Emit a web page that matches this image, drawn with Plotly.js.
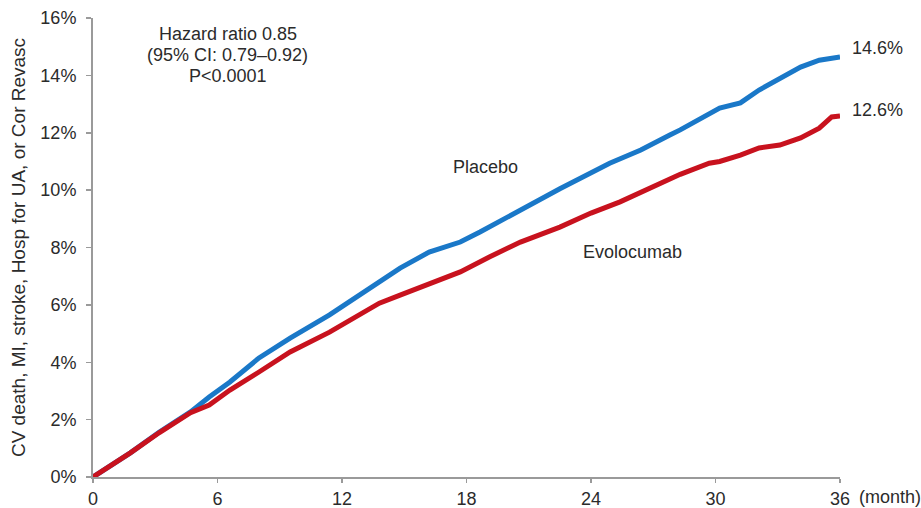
<!DOCTYPE html>
<html>
<head>
<meta charset="utf-8">
<script src="https://cdn.plot.ly/plotly-3.0.1.min.js"></script>
<style>html,body{margin:0;padding:0;background:#fff;}#chart{width:921px;height:508px;}</style>
</head>
<body>
<div id="chart"></div>
<script>
// Months since randomization
var placeboMonths = [0, 1.8, 3.2, 4.7, 5.6, 6.6, 8.0, 9.5, 11.4, 13.8, 14.8, 16.2, 17.7, 18.65, 20.6, 22.5, 24.9, 26.4, 27.8, 28.3, 30.2, 31.2, 32.1, 33.1, 34.1, 35.0, 36.0];
var placeboPct    = [0, 0.84, 1.57, 2.27, 2.79, 3.31, 4.15, 4.84, 5.65, 6.80, 7.28, 7.84, 8.19, 8.54, 9.31, 10.05, 10.94, 11.40, 11.92, 12.10, 12.86, 13.04, 13.49, 13.90, 14.29, 14.53, 14.64];

var evoMonths = [0, 1.8, 3.2, 4.7, 5.6, 6.6, 8.0, 9.5, 11.4, 13.8, 14.8, 16.7, 17.7, 19.1, 20.6, 22.5, 24.0, 25.4, 26.8, 28.3, 29.7, 30.2, 31.2, 32.1, 33.1, 34.1, 35.0, 35.3, 35.6, 36.0];
var evoPct    = [0, 0.84, 1.55, 2.24, 2.51, 3.03, 3.66, 4.36, 5.05, 6.06, 6.34, 6.87, 7.15, 7.67, 8.19, 8.71, 9.20, 9.59, 10.07, 10.55, 10.94, 11.00, 11.22, 11.47, 11.57, 11.82, 12.16, 12.34, 12.55, 12.58];

var xTicks = [0, 6, 12, 18, 24, 30, 36];
var yTicks = [0, 2, 4, 6, 8, 10, 12, 14, 16];
var yTickLabels = ["0%", "2%", "4%", "6%", "8%", "10%", "12%", "14%", "16%"];

var font = "Liberation Sans, Arial, Helvetica, sans-serif";
var txt = "#2b2b2b";

var traces = [
  {x: placeboMonths, y: placeboPct, mode: "lines", name: "Placebo",
   line: {color: "#1a78c8", width: 5}, cliponaxis: false},
  {x: evoMonths, y: evoPct, mode: "lines", name: "Evolocumab",
   line: {color: "#c8121e", width: 5}, cliponaxis: false}
];

var layout = {
  width: 921, height: 508,
  margin: {l: 93, r: 81, t: 18, b: 31},
  paper_bgcolor: "#fff", plot_bgcolor: "#fff",
  showlegend: false,
  font: {family: font, size: 18, color: txt},
  xaxis: {
    range: [0, 36], tickvals: xTicks, ticktext: xTicks.map(String),
    showgrid: false, zeroline: false, showline: true, linecolor: "#9a9a9a", linewidth: 2,
    ticks: "outside", ticklen: 4, tickcolor: "#9a9a9a", tickwidth: 1.5,
    ticklabelstandoff: 0,
    tickfont: {family: font, size: 18, color: txt}
  },
  yaxis: {
    range: [0, 16], tickvals: yTicks, ticktext: yTickLabels,
    showgrid: false, zeroline: false, showline: true, linecolor: "#9a9a9a", linewidth: 2,
    ticks: "outside", ticklen: 5, tickcolor: "#9a9a9a", tickwidth: 1.5,
    ticklabelstandoff: 6,
    tickfont: {family: font, size: 18, color: txt},
    title: {text: "CV death, MI, stroke, Hosp for UA, or Cor Revasc", standoff: 10,
            font: {family: font, size: 19, color: txt}}
  },
  annotations: [
    {xref: "x", yref: "y", x: 6.5, y: 15.43, text: "Hazard ratio 0.85", showarrow: false,
     xanchor: "center", yanchor: "middle", font: {size: 18, color: txt}},
    {xref: "x", yref: "y", x: 6.5, y: 14.7, text: "(95% CI: 0.79\u20130.92)", showarrow: false,
     xanchor: "center", yanchor: "middle", font: {size: 18, color: txt}},
    {xref: "x", yref: "y", x: 6.5, y: 13.97, text: "P<0.0001", showarrow: false,
     xanchor: "center", yanchor: "middle", font: {size: 18, color: txt}},
    {xref: "x", yref: "y", x: 18.9, y: 10.8, text: "Placebo", showarrow: false,
     xanchor: "center", yanchor: "middle", font: {size: 18, color: txt}},
    {xref: "x", yref: "y", x: 26.0, y: 7.85, text: "Evolocumab", showarrow: false,
     xanchor: "center", yanchor: "middle", font: {size: 18, color: txt}},
    {xref: "x", yref: "y", x: 36, xshift: 10, y: 14.95, text: "14.6%", showarrow: false,
     xanchor: "left", yanchor: "middle", font: {size: 18, color: txt}},
    {xref: "x", yref: "y", x: 36, xshift: 10, y: 12.8, text: "12.6%", showarrow: false,
     xanchor: "left", yanchor: "middle", font: {size: 18, color: txt}},
    {xref: "x", yref: "paper", x: 36, xshift: 17, y: 0, yshift: -20, text: "(month)", showarrow: false,
     xanchor: "left", yanchor: "middle", font: {size: 18, color: txt}}
  ]
};

Plotly.newPlot("chart", traces, layout, {displayModeBar: false, staticPlot: true});
</script>
</body>
</html>
